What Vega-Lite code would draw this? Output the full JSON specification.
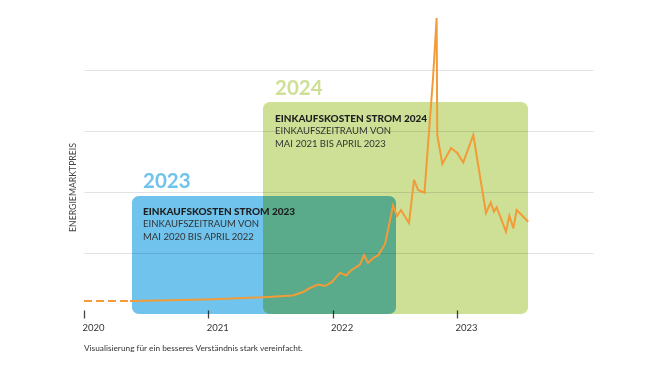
{
  "$schema": "https://vega.github.io/schema/vega-lite/v6.json",
  "width": 509,
  "height": 305,
  "autosize": {"type": "none"},
  "padding": {"left": 84, "top": 9, "right": 67, "bottom": 57},
  "background": "white",
  "config": {"font": "Lato", "view": {"stroke": null}},
  "title": {
    "text": "Visualisierung für ein besseres Verständnis stark vereinfacht.",
    "orient": "bottom",
    "anchor": "start",
    "frame": "group",
    "fontSize": 8.3,
    "fontWeight": "normal",
    "color": "#333",
    "font": "Lato",
    "offset": 12
  },
  "datasets": {
    "boxes": [
      {"box": "2023", "t": 2020.386, "t2": 2022.51, "top": 1.934},
      {"box": "2024", "t": 2021.44, "t2": 2023.572, "top": 3.475}
    ],
    "linie": [
      {"phase": "vorher", "t": 2020.0, "v": 0.213},
      {"phase": "vorher", "t": 2020.37, "v": 0.213},
      {"phase": "nachher", "t": 2020.37, "v": 0.213},
      {"phase": "nachher", "t": 2020.692, "v": 0.225},
      {"phase": "nachher", "t": 2021.038, "v": 0.241},
      {"phase": "nachher", "t": 2021.44, "v": 0.274},
      {"phase": "nachher", "t": 2021.681, "v": 0.303},
      {"phase": "nachher", "t": 2021.762, "v": 0.361},
      {"phase": "nachher", "t": 2021.818, "v": 0.426},
      {"phase": "nachher", "t": 2021.882, "v": 0.484},
      {"phase": "nachher", "t": 2021.939, "v": 0.459},
      {"phase": "nachher", "t": 2021.995, "v": 0.525},
      {"phase": "nachher", "t": 2022.06, "v": 0.677},
      {"phase": "nachher", "t": 2022.108, "v": 0.631},
      {"phase": "nachher", "t": 2022.148, "v": 0.713},
      {"phase": "nachher", "t": 2022.22, "v": 0.811},
      {"phase": "nachher", "t": 2022.253, "v": 0.967},
      {"phase": "nachher", "t": 2022.285, "v": 0.839},
      {"phase": "nachher", "t": 2022.333, "v": 0.926},
      {"phase": "nachher", "t": 2022.369, "v": 0.967},
      {"phase": "nachher", "t": 2022.422, "v": 1.148},
      {"phase": "nachher", "t": 2022.454, "v": 1.459},
      {"phase": "nachher", "t": 2022.486, "v": 1.779},
      {"phase": "nachher", "t": 2022.518, "v": 1.607},
      {"phase": "nachher", "t": 2022.55, "v": 1.705},
      {"phase": "nachher", "t": 2022.615, "v": 1.492},
      {"phase": "nachher", "t": 2022.655, "v": 2.197},
      {"phase": "nachher", "t": 2022.687, "v": 2.033},
      {"phase": "nachher", "t": 2022.739, "v": 1.989},
      {"phase": "nachher", "t": 2022.808, "v": 3.869},
      {"phase": "nachher", "t": 2022.837, "v": 4.852},
      {"phase": "nachher", "t": 2022.842, "v": 2.934},
      {"phase": "nachher", "t": 2022.883, "v": 2.459},
      {"phase": "nachher", "t": 2022.953, "v": 2.721},
      {"phase": "nachher", "t": 2023.003, "v": 2.639},
      {"phase": "nachher", "t": 2023.051, "v": 2.484},
      {"phase": "nachher", "t": 2023.132, "v": 2.934},
      {"phase": "nachher", "t": 2023.234, "v": 1.656},
      {"phase": "nachher", "t": 2023.272, "v": 1.828},
      {"phase": "nachher", "t": 2023.298, "v": 1.677},
      {"phase": "nachher", "t": 2023.32, "v": 1.749},
      {"phase": "nachher", "t": 2023.395, "v": 1.349},
      {"phase": "nachher", "t": 2023.422, "v": 1.611},
      {"phase": "nachher", "t": 2023.454, "v": 1.405},
      {"phase": "nachher", "t": 2023.481, "v": 1.705},
      {"phase": "nachher", "t": 2023.574, "v": 1.513}
    ],
    "jahre": [
      {"box": "2023", "t": 2020.475, "v": 2.066, "text": "2023"},
      {"box": "2024", "t": 2021.537, "v": 3.59, "text": "2024"}
    ],
    "kopf": [
      {"t": 2020.475, "v": 1.623, "text": "EINKAUFSKOSTEN STROM 2023"},
      {"t": 2021.537, "v": 3.148, "text": "EINKAUFSKOSTEN STROM 2024"}
    ],
    "unter": [
      {"t": 2020.475, "v": 1.426, "text": "EINKAUFSZEITRAUM VON|MAI 2020 BIS APRIL 2022"},
      {"t": 2021.537, "v": 2.943, "text": "EINKAUFSZEITRAUM VON|MAI 2021 BIS APRIL 2023"}
    ]
  },
  "layer": [
    {
      "data": {"name": "boxes"},
      "mark": {"type": "rect", "cornerRadius": 7, "blend": "multiply"},
      "encoding": {
        "x": {
          "field": "t",
          "type": "quantitative",
          "scale": {"domain": [2020, 2024.095], "nice": false, "zero": false},
          "axis": {
            "title": null,
            "values": [2020, 2021, 2022, 2023],
            "format": "d",
            "labelAlign": "left",
            "labelFontSize": 9.5,
            "labelColor": "#333",
            "labelFont": "Lato",
            "labelOffset": -2,
            "domain": false,
            "grid": false,
            "ticks": true,
            "tickSize": 8,
            "tickColor": "#444",
            "tickWidth": 1.3,
            "offset": -4,
            "labelPadding": 4
          }
        },
        "x2": {"field": "t2"},
        "y": {
          "field": "top",
          "type": "quantitative",
          "scale": {"domain": [0, 5], "nice": false, "zero": true},
          "axis": {
            "values": [1, 2, 3, 4],
            "grid": true,
            "gridColor": "#e2e2e2",
            "gridWidth": 1,
            "domain": false,
            "ticks": false,
            "labels": false,
            "title": "ENERGIEMARKTPREIS",
            "titleFont": "Lato",
            "titleFontSize": 8.7,
            "titleFontWeight": "normal",
            "titleColor": "#444",
            "titleX": -12,
            "titleY": 178,
            "titleAngle": 270,
            "titleAlign": "center",
            "titleBaseline": "middle"
          }
        },
        "y2": {"datum": 0},
        "color": {
          "field": "box",
          "type": "nominal",
          "scale": {"domain": ["2023", "2024"], "range": ["#6fc3ec", "#cde096"]},
          "legend": null
        }
      }
    },
    {
      "mark": {"type": "rule", "color": "#555", "strokeWidth": 1.5},
      "encoding": {
        "x": {"datum": 2020, "type": "quantitative"},
        "x2": {"datum": 2024.095},
        "y": {"datum": 0, "type": "quantitative"}
      }
    },
    {
      "data": {"name": "linie"},
      "transform": [{"filter": "datum.phase === 'vorher'"}],
      "mark": {"type": "line", "color": "#f29b38", "strokeWidth": 2, "strokeDash": [8, 4]},
      "encoding": {
        "x": {"field": "t", "type": "quantitative"},
        "y": {"field": "v", "type": "quantitative"}
      }
    },
    {
      "data": {"name": "linie"},
      "transform": [{"filter": "datum.phase === 'nachher'"}],
      "mark": {"type": "line", "color": "#f29b38", "strokeWidth": 2, "strokeJoin": "miter"},
      "encoding": {
        "x": {"field": "t", "type": "quantitative"},
        "y": {"field": "v", "type": "quantitative"}
      }
    },
    {
      "data": {"name": "jahre"},
      "mark": {"type": "text", "align": "left", "baseline": "alphabetic", "fontSize": 20.5, "fontWeight": "bold", "font": "Lato"},
      "encoding": {
        "x": {"field": "t", "type": "quantitative"},
        "y": {"field": "v", "type": "quantitative"},
        "text": {"field": "text"},
        "color": {"field": "box", "type": "nominal", "legend": null}
      }
    },
    {
      "data": {"name": "kopf"},
      "mark": {"type": "text", "align": "left", "baseline": "alphabetic", "fontSize": 10, "fontWeight": 900, "font": "Lato", "color": "#1e1e1e"},
      "encoding": {
        "x": {"field": "t", "type": "quantitative"},
        "y": {"field": "v", "type": "quantitative"},
        "text": {"field": "text"}
      }
    },
    {
      "data": {"name": "unter"},
      "mark": {"type": "text", "align": "left", "baseline": "alphabetic", "fontSize": 9.5, "font": "Lato", "color": "#333", "lineBreak": "|", "lineHeight": 12.5},
      "encoding": {
        "x": {"field": "t", "type": "quantitative"},
        "y": {"field": "v", "type": "quantitative"},
        "text": {"field": "text"}
      }
    }
  ]
}
